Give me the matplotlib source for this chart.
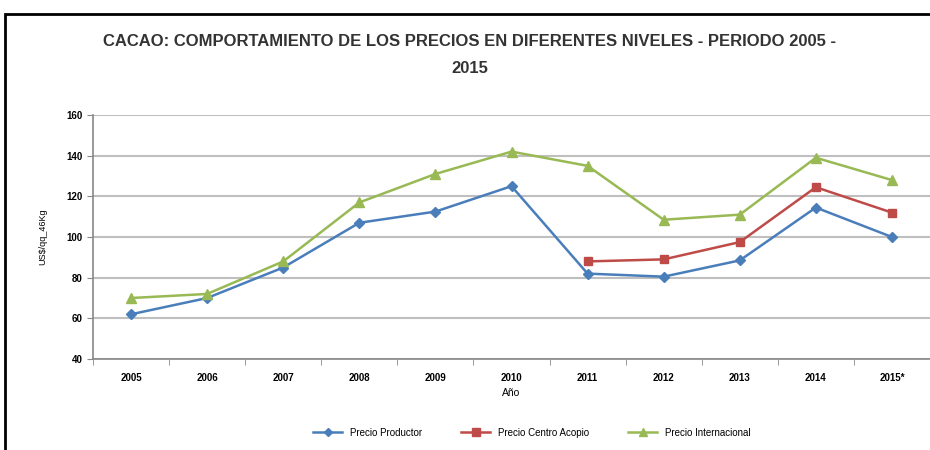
import matplotlib.pyplot as plt
import matplotlib.patches as mpatches

years = ['2005', '2006', '2007', '2008', '2009', '2010', '2011', '2012', '2013', '2014', '2015*']
productor = [62, 70, 85, 107, 112.5, 125, 82, 80.5, 88.5, 114.5, 100]
acopio = [None, None, None, None, None, None, 88, 89, 97.5, 124.5, 112]
internacional = [70, 72, 88, 117, 131, 142, 135, 108.5, 111, 139, 128]

plt.rcParams['font.family'] = ['Liberation Sans', 'DejaVu Sans']

fig = plt.figure(figsize=(9.3, 4.5), dpi=100)
ax = fig.add_axes([0.1, 0.2022, 0.9, 0.5422])

x = list(range(len(years)))
x_ac = [i for i, v in zip(x, acopio) if v is not None]
y_ac = [v for v in acopio if v is not None]

ax.plot(x, productor, color='#4A7EBB', marker='D', markersize=5, lw=1.8, label='Precio Productor')
ax.plot(x_ac, y_ac, color='#BE4B48', marker='s', markersize=6, lw=1.8, label='Precio Centro Acopio')
ax.plot(x, internacional, color='#98B954', marker='^', markersize=7, lw=1.8, label='Precio Internacional')

ax.set_xlim(-0.5, len(years) - 0.5)
ax.set_ylim(40, 160)
ax.set_yticks(range(40, 161, 20))
ax.set_xticks(x)
ax.set_xticklabels(years)
ax.set_xticks([i - 0.5 for i in range(len(years) + 1)], minor=True)
ax.tick_params(axis='x', which='major', length=0, pad=10, labelsize=7)
ax.tick_params(axis='x', which='minor', length=4, color='#888888')
ax.tick_params(axis='y', length=4, color='#888888', labelsize=7)
for lab in ax.get_xticklabels() + ax.get_yticklabels():
    lab.set_fontweight('bold')

ax.grid(axis='y', color='#BFBFBF', lw=1.5)
ax.set_axisbelow(True)
for s in ['top', 'right']:
    ax.spines[s].set_visible(False)
for s in ['left', 'bottom']:
    ax.spines[s].set_color('#888888')
    ax.spines[s].set_linewidth(1.2)

ax.set_xlabel('Año', fontsize=7.5, labelpad=4)
ax.set_ylabel('US$/qq_46Kg', fontsize=6.5, labelpad=14)

fig.text(0.505, 0.908, 'CACAO: COMPORTAMIENTO DE LOS PRECIOS EN DIFERENTES NIVELES - PERIODO 2005 -',
         ha='center', va='center', fontsize=12, fontweight='bold', color='#333333')
fig.text(0.505, 0.847, '2015', ha='center', va='center', fontsize=12, fontweight='bold', color='#333333')

fig.legend(loc='center', bbox_to_anchor=(0.572, 0.038), ncol=3, frameon=False,
           fontsize=7, handlelength=3, columnspacing=4, markerscale=0.9)

frame = mpatches.Rectangle((5 / 930, -0.1), 1.2, 1.1 - 14 / 450, transform=fig.transFigure,
                           fill=False, edgecolor='black', lw=2, clip_on=False)
fig.patches.append(frame)

fig.savefig('out.png', dpi=100)
